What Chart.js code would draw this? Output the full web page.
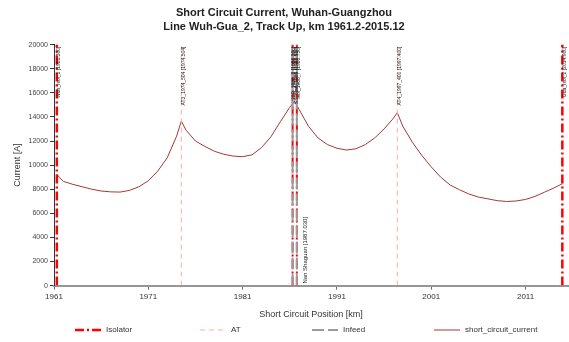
<!DOCTYPE html>
<html>
<head>
<meta charset="utf-8">
<script src="https://cdn.jsdelivr.net/npm/chart.js@4.4.1/dist/chart.umd.min.js"></script>
<style>
  html, body { margin: 0; padding: 0; background: #fff; }
  #wrap { width: 569px; height: 342px; }
</style>
</head>
<body>
<div id="wrap"><canvas id="chart"></canvas></div>
<script>
// short circuit current along the line
const positionKm = [1961.3, 1961.6, 1962, 1963, 1964, 1965, 1966, 1967, 1968, 1969, 1970, 1971, 1972, 1973, 1974,
  1974.5, 1975, 1976, 1977, 1978, 1979, 1980, 1981, 1982, 1983, 1984, 1985, 1986, 1986.5, 1987, 1988, 1989, 1990,
  1991, 1992, 1993, 1994, 1995, 1996, 1997, 1997.4, 1998, 1999, 2000, 2001, 2002, 2003, 2004, 2005, 2006, 2007,
  2008, 2009, 2010, 2011, 2012, 2013, 2014, 2014.9];
const currentA = [9250, 8950, 8650, 8400, 8200, 8000, 7850, 7780, 7760, 7900, 8200, 8700, 9500, 10600, 12400,
  13650, 12900, 12000, 11550, 11150, 10900, 10750, 10700, 10850, 11450, 12350, 13600, 14800, 15300, 14600, 13200, 12250, 11700,
  11400, 11250, 11350, 11700, 12250, 13000, 13900, 14350, 13200, 11900, 10800, 9850, 9000, 8350, 7950, 7600, 7350, 7200,
  7050, 6980, 7020, 7150, 7400, 7750, 8100, 8450];

// markers
const isolatorKm = [1961.3, 1986.3, 1986.75, 2014.9];
const atKm = [1974.5, 1997.4];
const infeedKm = [1986.3, 1986.75];

// rotated marker labels
const labelKm = [1961.3, 1974.5, 1986.15, 1986.3, 1986.55, 1986.75, 1997.4, 2014.9];
const labelText = ['Wuh_Isol_1 [1961.300]', 'AT3_1974_504 [1974.504]', 'SSP_1986_2 [1986.200]', 'Isol_1986_3 [1986.300]',
  'SS_Nan_1986 [1986.550]', 'Isol_1986_7 [1986.750]', 'AT4_1997_400 [1997.400]', 'Gua_Isol_2 [2014.900]'];
const bottomLabelKm = [1987.6];
const bottomLabelText = ['Nan Shaguan [1987.030]'];

const xTicks = [1961, 1971, 1981, 1991, 2001, 2011];
const yTicks = [0, 2000, 4000, 6000, 8000, 10000, 12000, 14000, 16000, 18000, 20000];

const FONT = "'Liberation Sans', Arial, sans-serif";

const styles = {
  'Isolator': { color: 'rgb(255,0,0)', width: 2.5, dash: [9, 3, 2, 3] },
  'AT': { color: 'rgb(250,170,170)', width: 1, dash: [5, 4] },
  'Infeed': { color: 'rgb(155,155,155)', width: 2, dash: [12, 4] },
  'short_circuit_current': { color: 'rgb(165,55,55)', width: 1, dash: [] }
};
const legendOrder = ['Isolator', 'AT', 'Infeed', 'short_circuit_current'];
const legendLeft = [75, 200, 312, 434];

function vline(km, label, widthOverride) {
  const s = styles[label];
  return {
    type: 'line', label: label,
    data: [{x: km, y: 0}, {x: km, y: 20000}],
    borderColor: s.color, borderWidth: widthOverride || s.width, borderDash: s.dash,
    pointRadius: 0, fill: false
  };
}

const datasets = [];
infeedKm.forEach(k => datasets.push(vline(k, 'Infeed')));
// isolators sitting under the infeed lines are drawn as wide as them
isolatorKm.forEach(k => datasets.push(vline(k, 'Isolator', infeedKm.includes(k) ? 2 : 0)));
atKm.forEach(k => datasets.push(vline(k, 'AT')));
datasets.push({
  type: 'line', label: 'short_circuit_current',
  data: positionKm.map((k, i) => ({x: k, y: currentA[i]})),
  borderColor: styles.short_circuit_current.color, borderWidth: 1,
  pointRadius: 0, tension: 0, fill: false
});

const markerLabels = {
  id: 'markerLabels',
  afterDatasetsDraw(chart) {
    const ctx = chart.ctx, xs = chart.scales.x, area = chart.chartArea;
    ctx.save();
    ctx.fillStyle = '#222';
    ctx.font = '5px ' + FONT;
    ctx.textBaseline = 'middle';
    ctx.textAlign = 'right';
    labelKm.forEach((k, i) => {
      ctx.save();
      ctx.translate(xs.getPixelForValue(k) + 2, area.top + 2);
      ctx.rotate(-Math.PI / 2);
      ctx.fillText(labelText[i], 0, 0);
      ctx.restore();
    });
    ctx.font = '6px ' + FONT;
    ctx.textAlign = 'left';
    bottomLabelKm.forEach((k, i) => {
      ctx.save();
      ctx.translate(xs.getPixelForValue(k), area.bottom - 2);
      ctx.rotate(-Math.PI / 2);
      ctx.fillText(bottomLabelText[i], 0, 0);
      ctx.restore();
    });
    ctx.restore();
  }
};

// legend drawn by hand so the dash patterns show and items spread like the original
const lineLegend = {
  id: 'lineLegend',
  afterDraw(chart) {
    const ctx = chart.ctx;
    const y = chart.height - 12;
    const len = 26;
    ctx.save();
    ctx.font = '8px ' + FONT;
    ctx.fillStyle = '#333';
    ctx.textBaseline = 'middle';
    legendOrder.forEach((name, i) => {
      const s = styles[name];
      const x = legendLeft[i];
      ctx.strokeStyle = s.color;
      ctx.lineWidth = s.width;
      ctx.setLineDash(s.dash);
      ctx.beginPath();
      ctx.moveTo(x, y);
      ctx.lineTo(x + len, y);
      ctx.stroke();
      ctx.fillText(name, x + len + 5, y);
    });
    ctx.restore();
  }
};

new Chart(document.getElementById('chart').getContext('2d'), {
  type: 'line',
  data: { datasets: datasets },
  plugins: [markerLabels, lineLegend],
  options: {
    responsive: true,
    maintainAspectRatio: false,
    animation: false,
    layout: { padding: { left: 0, right: 1, top: 0, bottom: 22 } },
    plugins: {
      title: {
        display: true,
        text: ['Short Circuit Current, Wuhan-Guangzhou', 'Line Wuh-Gua_2, Track Up, km 1961.2-2015.12'],
        color: '#222',
        font: { family: FONT, size: 11, weight: 'bold', lineHeight: 1.3 },
        padding: { top: 6, bottom: 10 }
      },
      legend: { display: false },
      tooltip: { enabled: false }
    },
    scales: {
      x: {
        type: 'linear', min: 1961, max: 2015.5,
        afterBuildTicks(scale) { scale.ticks = xTicks.map(v => ({value: v})); },
        ticks: { color: '#333', font: { family: FONT, size: 8 }, maxRotation: 0, padding: 2, autoSkip: false,
          callback: v => String(v) },
        grid: { drawOnChartArea: false, tickLength: 4, color: '#666' },
        border: { color: 'rgb(150,150,150)', width: 2 },
        title: { display: true, text: 'Short Circuit Position [km]', color: '#333',
          font: { family: FONT, size: 9 }, padding: { top: 6, bottom: 0 } }
      },
      y: {
        min: 0, max: 20000,
        afterBuildTicks(scale) { scale.ticks = yTicks.map(v => ({value: v})); },
        afterFit(scale) { scale.width = 54; },
        ticks: { color: '#444', font: { family: FONT, size: 7 }, padding: 2, autoSkip: false, callback: v => String(v) },
        grid: { drawOnChartArea: false, tickLength: 4, color: '#333' },
        border: { color: '#333', width: 1 },
        title: { display: true, text: 'Current [A]', color: '#333', font: { family: FONT, size: 9 },
          padding: { top: 12, bottom: 0 } }
      }
    }
  }
});
</script>
</body>
</html>
